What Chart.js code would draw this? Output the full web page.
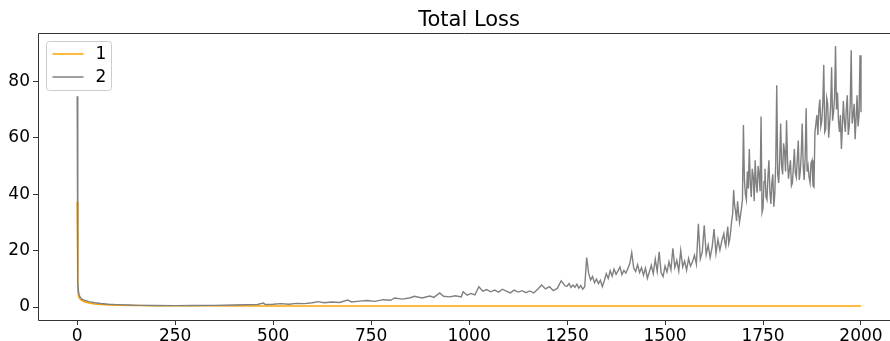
<!DOCTYPE html>
<html>
<head>
<meta charset="utf-8">
<title>Total Loss</title>
<script src="https://cdn.jsdelivr.net/npm/chart.js@4/dist/chart.umd.min.js"></script>
<style>
  html, body { margin: 0; padding: 0; background: #fff; }
  #wrap { width: 890px; height: 341px; }
</style>
</head>
<body>
<div id="wrap"><canvas id="lossChart" width="890" height="341"></canvas></div>
<script>
// ─── Data ─────────────────────────────────────────────────────────────────────

const chartTitle = 'Total Loss';
const seriesNames = ['1', '2'];
const xTickValues = [0, 250, 500, 750, 1000, 1250, 1500, 1750, 2000];
const yTickValues = [0, 20, 40, 60, 80];

// run 1 (orange): fast decay, then flat
const steps1 = [0, 1, 2, 3, 5, 8, 12, 20, 30, 45, 60, 80, 100, 150, 200, 300, 500, 1000, 1500, 2000];
const loss1  = [37.3, 12, 6, 4.2, 3.3, 2.7, 2.3, 1.8, 1.4, 1.1, 0.9, 0.75, 0.65, 0.5, 0.45, 0.42, 0.4, 0.38, 0.36, 0.35];

// run 2 (gray): decays, then diverges
const steps2 = [
  0, 1, 2, 3, 5, 8, 12, 20, 30, 45,
  60, 80, 100, 130, 160, 200, 250, 300, 350, 400,
  430, 460, 475, 480, 500, 520, 540, 560, 580, 600,
  615, 630, 650, 670, 690, 700, 720, 740, 760, 780,
  800, 810, 830, 850, 860, 880, 900, 910, 925, 935,
  950, 965, 980, 985, 995, 1005, 1015, 1025, 1035, 1045,
  1055, 1065, 1075, 1085, 1095, 1105, 1115, 1125, 1135, 1145,
  1155, 1165, 1175, 1185, 1195, 1205, 1215, 1225, 1235, 1245,
  1250, 1255, 1260, 1265, 1270, 1275, 1280, 1285, 1290, 1295,
  1300, 1305, 1310, 1315, 1320, 1325, 1330, 1335, 1340, 1345,
  1350, 1355, 1360, 1365, 1370, 1375, 1380, 1385, 1390, 1395,
  1400, 1405, 1410, 1415, 1420, 1425, 1430, 1435, 1440, 1445,
  1450, 1455, 1460, 1465, 1470, 1475, 1480, 1485, 1490, 1495,
  1500, 1505, 1510, 1515, 1520, 1525, 1530, 1535, 1540, 1545,
  1550, 1555, 1560, 1565, 1570, 1575, 1580, 1585, 1590, 1595,
  1600, 1605, 1610, 1615, 1620, 1625, 1630, 1635, 1640, 1645,
  1650, 1652.5, 1655, 1657.5, 1660, 1662.5, 1665, 1667.5, 1670, 1672.5,
  1675, 1677.5, 1680, 1682.5, 1685, 1687.5, 1690, 1692.5, 1695, 1697.5,
  1700, 1702.5, 1705, 1707.5, 1710, 1712.5, 1715, 1717.5, 1720, 1722.5,
  1725, 1727.5, 1730, 1732.5, 1735, 1737.5, 1740, 1742.5, 1745, 1747.5,
  1750, 1752.5, 1755, 1757.5, 1760, 1762.5, 1765, 1767.5, 1770, 1772.5,
  1775, 1777.5, 1780, 1782.5, 1785, 1787.5, 1790, 1792.5, 1795, 1797.5,
  1800, 1802.5, 1805, 1807.5, 1810, 1812.5, 1815, 1817.5, 1820, 1822.5,
  1825, 1827.5, 1830, 1832.5, 1835, 1837.5, 1840, 1842.5, 1845, 1847.5,
  1850, 1852.5, 1855, 1857.5, 1860, 1862.5, 1865, 1867.5, 1870, 1872.5,
  1875, 1877.5, 1880, 1882.5, 1885, 1887.5, 1890, 1892.5, 1895, 1897.5,
  1900, 1902.5, 1905, 1907.5, 1910, 1912.5, 1915, 1917.5, 1920, 1922.5,
  1925, 1927.5, 1930, 1932.5, 1935, 1937.5, 1940, 1942.5, 1945, 1947.5,
  1950, 1952.5, 1955, 1957.5, 1960, 1962.5, 1965, 1967.5, 1970, 1972.5,
  1975, 1977.5, 1980, 1982.5, 1985, 1987.5, 1990, 1992.5, 1995, 1997.5,
  2000,
];
const loss2 = [
  74.7, 20, 9, 6, 4.2, 3.4, 2.8, 2.3, 1.9, 1.5,
  1.25, 1.0, 0.85, 0.7, 0.6, 0.55, 0.5, 0.55, 0.6, 0.7,
  0.8, 0.9, 1.4, 0.9, 1.0, 1.2, 1.0, 1.3, 1.2, 1.5,
  1.9, 1.5, 1.8, 1.6, 2.5, 1.8, 2.1, 2.3, 2.0, 2.6,
  2.4, 3.2, 2.8, 3.3, 3.8, 3.2, 3.9, 3.4, 5.0, 3.8,
  3.6, 4.0, 3.6, 5.4, 4.2, 4.8, 4.3, 7.2, 5.6, 6.2,
  5.4, 6.0, 5.3, 6.3, 5.6, 5.0, 6.0, 5.3, 5.8, 5.1,
  5.7, 5.0, 6.3, 7.8, 6.4, 7.2, 5.8, 6.6, 9.3, 7.5,
  7.4, 8.3, 6.9, 7.8, 7.0, 8.1, 6.7, 7.6, 6.3, 7.2,
  17.5, 12.0, 9.6, 10.8, 8.6, 9.9, 8.3, 9.5, 7.2, 9.3,
  11.8, 10.1, 12.9, 10.9, 13.4, 11.6, 12.8, 14.2, 11.5, 13.0,
  12.0, 13.6, 15.4, 19.3, 13.8, 12.6, 15.0, 12.2, 13.9, 11.3,
  13.8, 10.2, 12.5, 14.8, 11.8, 17.0, 12.6, 19.6, 12.2, 10.8,
  14.5, 12.4, 16.0, 13.2, 20.8, 14.0, 16.5, 12.8, 20.0, 14.2,
  16.3, 13.0, 17.2, 14.5, 16.0, 18.4, 15.2, 29.5, 17.0, 19.5,
  29.0, 18.6, 22.0, 17.5, 21.0, 27.6, 19.0, 24.0, 20.2, 23.5,
  26.0, 23.0, 21.5, 25.5, 28.5, 22.5, 24.0, 27.0, 30.5, 33.0,
  41.5, 36.0, 34.0, 30.5, 37.5, 33.5, 30.0, 32.5, 35.0, 38.0,
  64.5, 45.0, 40.0, 38.0, 48.0, 42.0, 56.0, 44.0, 39.0, 49.0,
  46.5, 37.5, 52.0, 44.0, 40.5, 50.0, 47.0, 41.0, 67.5, 33.5,
  35.0, 44.5, 49.0, 39.0, 38.0, 46.0, 52.0, 41.0, 36.5, 44.0,
  47.0, 35.5, 40.0, 51.0, 78.6, 47.0, 44.0, 52.0, 65.0, 50.0,
  47.0, 58.0, 55.0, 48.0, 66.2, 52.0, 45.5, 49.0, 52.0, 43.0,
  44.0, 50.0, 56.0, 47.5, 46.0, 52.5, 59.0, 45.0, 48.0, 54.0,
  65.0, 50.0, 45.0, 53.0, 70.4, 48.0, 50.0, 46.0, 44.0, 51.0,
  52.0, 43.0, 42.5, 62.0, 65.0, 68.0, 61.0, 70.0, 73.5, 64.0,
  66.0, 72.0, 85.8, 62.0, 63.0, 74.0, 72.0, 60.0, 65.0, 71.0,
  85.0, 66.0, 69.0, 74.0, 92.5, 70.0, 76.0, 66.0, 62.0, 68.0,
  56.0, 64.0, 73.0, 66.0, 62.0, 70.0, 75.0, 61.0, 64.0, 72.0,
  91.0, 65.0, 68.0, 72.0, 59.5, 67.0, 75.0, 64.0, 68.0, 89.2,
  69.0,
];

const COLORS = { run1: '#ffa500', run2: '#808080', spine: '#333333', text: '#000000' };
const FONT = 'DejaVu Sans';

// ─── Plugins ──────────────────────────────────────────────────────────────────

// left / top / bottom spines (the right one falls outside the picture)
const frame = {
  id: 'frame',
  afterDatasetsDraw(chart) {
    const { ctx, chartArea: a } = chart;
    ctx.save();
    ctx.strokeStyle = COLORS.spine;
    ctx.lineWidth = 1;
    ctx.beginPath();
    ctx.moveTo(a.right, a.top + 0.5);
    ctx.lineTo(a.left + 0.5, a.top + 0.5);
    ctx.lineTo(a.left + 0.5, a.bottom + 0.5);
    ctx.lineTo(a.right, a.bottom + 0.5);
    ctx.stroke();
    ctx.restore();
  },
};

// title centred over the full axes (whose right part is cropped away)
const axesTitle = {
  id: 'axesTitle',
  afterDraw(chart) {
    const { ctx } = chart;
    const xs = chart.scales.x;
    const cx = (xs.getPixelForValue(-100) + xs.getPixelForValue(2100)) / 2;
    ctx.save();
    ctx.font = `21px "${FONT}"`;
    ctx.fillStyle = COLORS.text;
    ctx.textAlign = 'center';
    ctx.textBaseline = 'middle';
    ctx.fillText(chartTitle, cx, 21);
    ctx.restore();
  },
};

// matplotlib-like legend inside the upper-left corner
const innerLegend = {
  id: 'innerLegend',
  afterDraw(chart) {
    const { ctx, chartArea: a } = chart;
    const x = a.left + 8.5, y = a.top + 8.5, w = 65, h = 49;
    ctx.save();
    ctx.beginPath();
    ctx.roundRect(x, y, w, h, 3);
    ctx.fillStyle = 'rgba(255,255,255,0.8)';
    ctx.fill();
    ctx.strokeStyle = '#cccccc';
    ctx.lineWidth = 1;
    ctx.stroke();
    const colors = [COLORS.run1, COLORS.run2];
    ctx.font = `17px "${FONT}"`;
    ctx.textBaseline = 'middle';
    seriesNames.forEach((name, i) => {
      const ly = y + 12.5 + i * 23;
      ctx.beginPath();
      ctx.moveTo(x + 6, ly);
      ctx.lineTo(x + 37, ly);
      ctx.strokeStyle = colors[i];
      ctx.lineWidth = 1.5;
      ctx.stroke();
      ctx.fillStyle = COLORS.text;
      ctx.fillText(name, x + 49, ly + 1);
    });
    ctx.restore();
  },
};

// ─── Chart ────────────────────────────────────────────────────────────────────

const toPoints = (xs, ys) => xs.map((x, i) => ({ x, y: ys[i] }));

const tickStyle = { color: COLORS.text, font: { family: FONT, size: 17 }, autoSkip: false, maxRotation: 0 };
const gridStyle = { display: true, drawOnChartArea: false, drawTicks: true, tickLength: 5, color: COLORS.spine, lineWidth: 1 };

new Chart(document.getElementById('lossChart'), {
  type: 'line',
  data: {
    datasets: [
      {
        label: seriesNames[0],
        data: toPoints(steps1, loss1),
        borderColor: COLORS.run1, borderWidth: 1.5,
        pointRadius: 0, tension: 0, order: 2,
      },
      {
        label: seriesNames[1],
        data: toPoints(steps2, loss2),
        borderColor: COLORS.run2, borderWidth: 1.4,
        pointRadius: 0, tension: 0, order: 1,
      },
    ],
  },
  options: {
    responsive: false,
    animation: false,
    events: [],
    layout: { padding: { left: 0, right: 0, top: 33, bottom: 0 } },
    scales: {
      x: {
        type: 'linear', min: -100, max: 2074,
        afterBuildTicks: s => { s.ticks = xTickValues.map(v => ({ value: v })); },
        afterFit: s => { s.height = 21; },
        ticks: { ...tickStyle, padding: 1, callback: v => String(v) },
        grid: gridStyle,
        border: { display: false },
      },
      y: {
        type: 'linear', min: -4.6, max: 97.1,
        afterBuildTicks: s => { s.ticks = yTickValues.map(v => ({ value: v })); },
        afterFit: s => { s.width = 38; },
        ticks: { ...tickStyle, padding: 3, callback: v => String(v) },
        grid: gridStyle,
        border: { display: false },
      },
    },
    plugins: {
      legend: { display: false },
      tooltip: { enabled: false },
      title: { display: false },
    },
  },
  plugins: [frame, axesTitle, innerLegend],
});
</script>
</body>
</html>
